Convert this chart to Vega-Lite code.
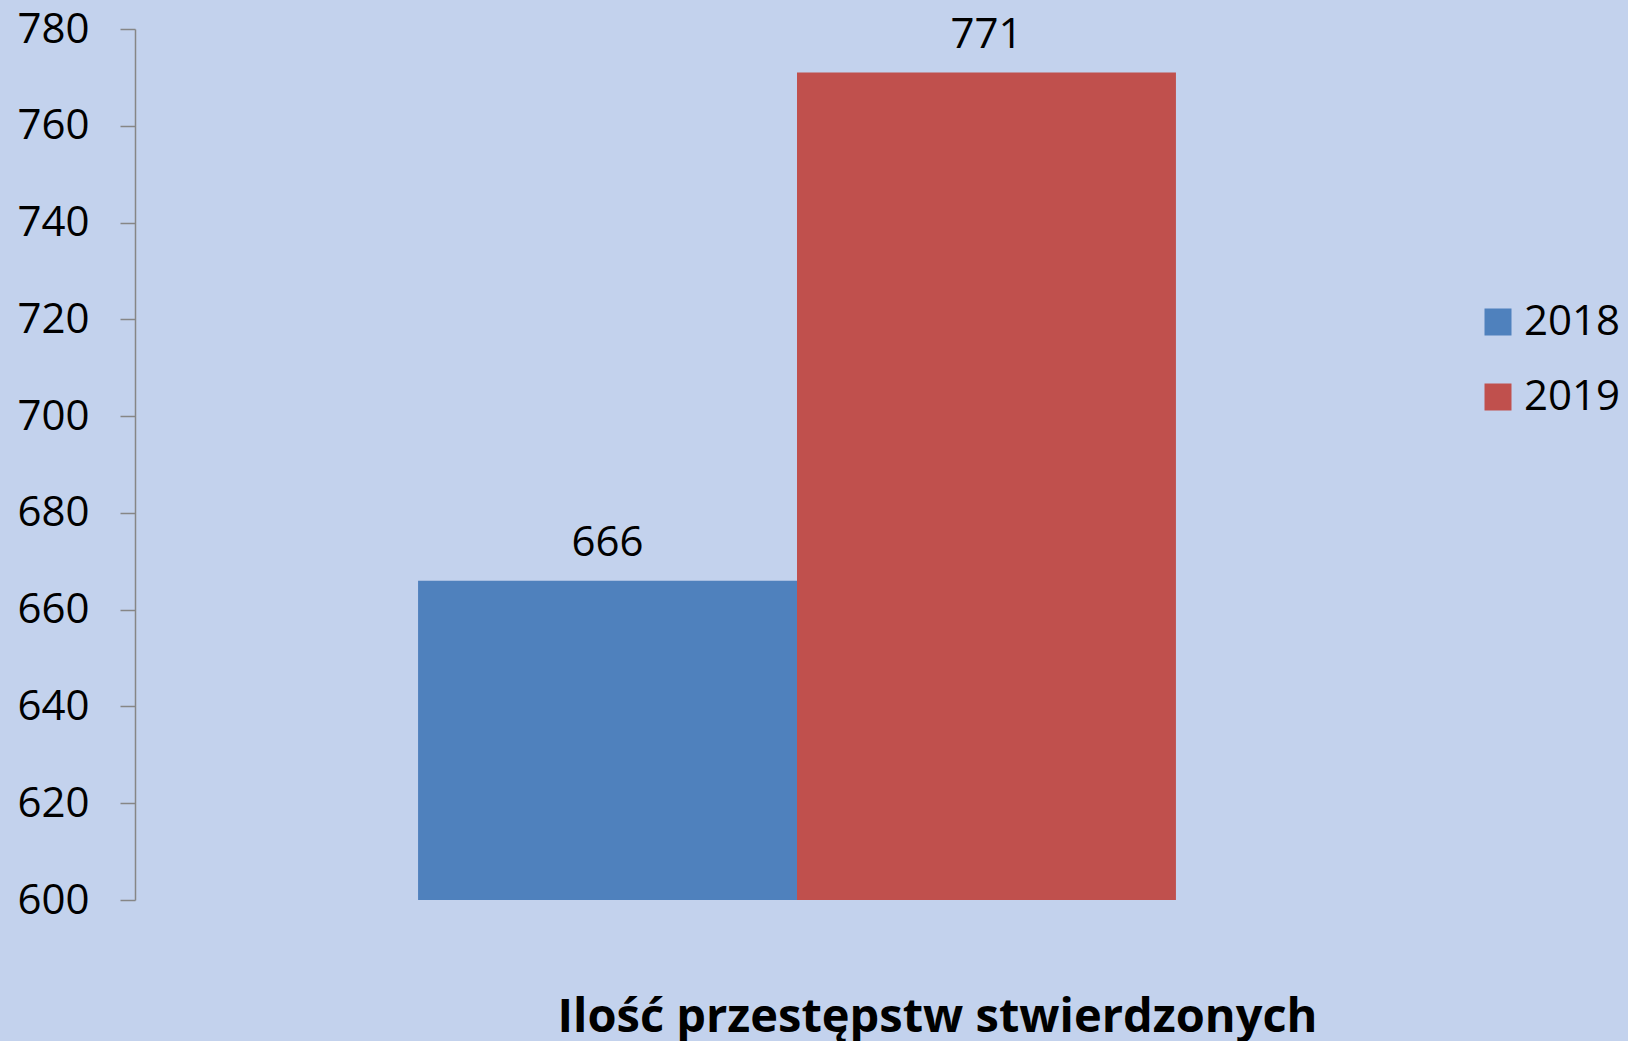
{
  "$schema": "https://vega.github.io/schema/vega-lite/v6.json",
  "width": 1324,
  "height": 871,
  "autosize": {"type": "none"},
  "padding": {"left": 135, "top": 29, "right": 169, "bottom": 141},
  "background": "#c3d2ed",
  "config": {"view": {"stroke": null}},
  "data": {"values": [
    {"year": "2018", "count": 666, "category": "Ilość przestępstw stwierdzonych"},
    {"year": "2019", "count": 771, "category": "Ilość przestępstw stwierdzonych"}
  ]},
  "encoding": {
    "x": {
      "field": "year", "type": "nominal",
      "scale": {"paddingInner": 0, "paddingOuter": 0.747},
      "axis": {
        "title": "Ilość przestępstw stwierdzonych",
        "labels": false, "ticks": false, "domain": false,
        "titleFont": "Open Sans", "titleFontSize": 47, "titleFontWeight": "bold",
        "titleColor": "#000000", "titleX": 802, "titleY": 131,
        "titleBaseline": "alphabetic", "titleAlign": "center"
      }
    },
    "y": {
      "field": "count", "type": "quantitative",
      "scale": {"domain": [600, 780], "nice": false, "zero": false},
      "axis": {
        "title": null, "values": [600, 620, 640, 660, 680, 700, 720, 740, 760, 780],
        "grid": false, "tickSize": 15, "tickColor": "#868686", "tickWidth": 1.5,
        "domainColor": "#868686", "domainWidth": 1.5,
        "labelFont": "Open Sans", "labelFontSize": 42, "labelColor": "#000000",
        "labelPadding": 31, "labelBaseline": "middle"
      }
    }
  },
  "layer": [
    {
      "mark": {"type": "bar", "clip": true},
      "encoding": {
        "y2": {"datum": 600},
        "color": {
          "field": "year", "type": "nominal",
          "scale": {"domain": ["2018", "2019"], "range": ["#4f81bd", "#c0504d"]},
          "legend": {
            "title": null, "orient": "none", "legendX": 1342, "legendY": 272,
            "symbolType": "square", "symbolSize": 729, "symbolStrokeWidth": 0,
            "labelFont": "Open Sans", "labelFontSize": 42, "labelColor": "#000000",
            "labelOffset": 5, "rowPadding": 33
          }
        }
      }
    },
    {
      "mark": {"type": "text", "dy": -25, "baseline": "alphabetic", "font": "Open Sans", "fontSize": 42, "color": "#000000"},
      "encoding": {"text": {"field": "count", "type": "quantitative"}}
    }
  ]
}
